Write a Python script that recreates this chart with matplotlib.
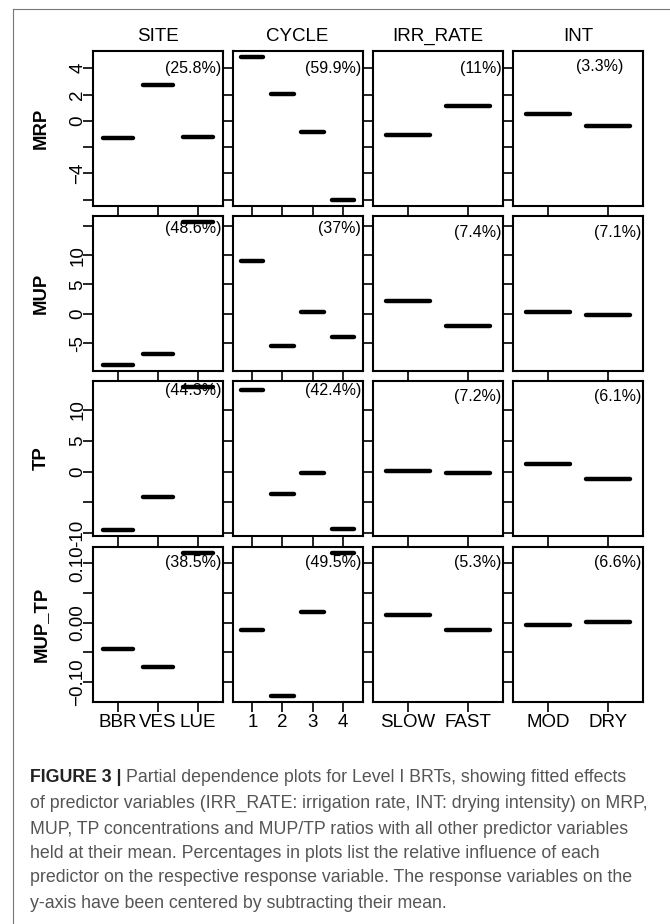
import matplotlib
matplotlib.use("Agg")
import matplotlib.pyplot as plt
from matplotlib.lines import Line2D

plt.rcParams['font.family'] = ['Liberation Sans', 'DejaVu Sans']

# predictors (columns) and their factor levels
predictors = ["SITE", "CYCLE", "IRR_RATE", "INT"]
site_levels = ["BBR", "VES", "LUE"]
cycle_levels = ["1", "2", "3", "4"]
irr_levels = ["SLOW", "FAST"]
int_levels = ["MOD", "DRY"]
levels = [site_levels, cycle_levels, irr_levels, int_levels]

# responses (rows), centred partial dependence per level
responses = ["MRP", "MUP", "TP", "MUP_TP"]
mrp = [[-1.34, 2.70, -1.22], [4.88, 2.06, -0.84, -6.05], [-1.09, 1.15], [0.49, -0.43]]
mup = [[-8.74, -6.87, 15.67], [9.03, -5.5, 0.34, -3.92], [2.11, -2.1], [0.24, -0.22]]
tp = [[-9.5, -4.08, 13.75], [13.3, -3.55, -0.26, -9.35], [0.16, -0.21], [1.29, -1.23]]
mup_tp = [[-0.0435, -0.0755, 0.118], [-0.0125, -0.124, 0.018, 0.118], [0.0123, -0.013], [-0.003, 0.001]]
values = [mrp, mup, tp, mup_tp]

# relative influence (%)
influence = [["25.8", "59.9", "11", "3.3"],
             ["48.6", "37", "7.4", "7.1"],
             ["44.3", "42.4", "7.2", "6.1"],
             ["38.5", "49.5", "5.3", "6.6"]]

# y ticks and which get a label
yticks = [[-6, -4, -2, 0, 2, 4], [-5, 0, 5, 10, 15], [-10, -5, 0, 5, 10], [-0.10, -0.05, 0.0, 0.05, 0.10]]
ytick_labels = [["", "\u22124", "", "0", "2", "4"],
                ["-5", "0", "5", "10", ""],
                ["-10", "", "0", "5", "10"],
                ["\u22120.10", "", "0.00", "", "0.10"]]

W, H = 670, 924
fig = plt.figure(figsize=(W / 100, H / 100), dpi=100)

col_left = [93, 232.5, 373, 513]
row_top = [51, 216, 381, 547]
pw, ph = 130, 155
# vertical offset (px from panel top) of the influence labels
lab_off = [[17, 17, 17, 16], [12, 12, 16, 16], [9, 9, 16, 16], [15, 15, 15, 15]]
fs = 13.5

for r in range(4):
    row_vals = [v for col in values[r] for v in col]
    lo, hi = min(row_vals), max(row_vals)
    ext = 0.04 * (hi - lo)
    for c in range(4):
        ax = fig.add_axes([col_left[c] / W, 1 - (row_top[r] + ph) / H, pw / W, ph / H])
        n = len(levels[c])
        xs = range(1, n + 1)
        for x, y in zip(xs, values[r][c]):
            ax.plot([x - 0.37, x + 0.37], [y, y], color="black", lw=3.2, solid_capstyle="round")
        ax.set_xlim(0.5 - 0.04 * n, n + 0.5 + 0.04 * n)
        ax.set_ylim(lo - ext, hi + ext)
        ax.set_xticks(list(xs))
        ax.set_yticks(yticks[r])
        if r == 3:
            ax.set_xticklabels(levels[c], fontsize=fs)
        else:
            ax.set_xticklabels([])
        if c == 0:
            ax.set_yticklabels(ytick_labels[r], fontsize=fs, rotation=90, va="center")
        else:
            ax.set_yticklabels([])
        ax.tick_params(direction="out", length=7.2, width=1.2, color="black")
        ax.tick_params(axis="y", pad=-2.5)
        ax.tick_params(axis="x", pad=1.5)
        for s in ax.spines.values():
            s.set_linewidth(1.5)
        txt = "(" + influence[r][c] + "%)"
        ty = 1 - lab_off[r][c] / ph
        if r == 0 and c == 3:
            ax.text(0.67, ty, txt, transform=ax.transAxes, ha="center", va="center", fontsize=11.5)
        else:
            ax.text(0.99, ty, txt, transform=ax.transAxes, ha="right", va="center", fontsize=11.5)
        if r == 0:
            fig.text((col_left[c] + pw / 2) / W, 1 - 41 / H, predictors[c], fontsize=fs,
                     ha="center", va="baseline")
    fig.text(41.5 / W, 1 - (row_top[r] + ph / 2) / H, responses[r], rotation=90,
             ha="center", va="center", fontsize=13.3, fontweight="bold")

# page frame lines
fig.add_artist(Line2D([13 / W, 1], [1 - 8.5 / H, 1 - 8.5 / H], transform=fig.transFigure, color="#777777", lw=0.8))
fig.add_artist(Line2D([13 / W, 13 / W], [0, 1 - 8.5 / H], transform=fig.transFigure, color="#777777", lw=0.8))

# caption
caption = ["Partial dependence plots for Level I BRTs, showing fitted effects",
           "of predictor variables (IRR_RATE: irrigation rate, INT: drying intensity) on MRP,",
           "MUP, TP concentrations and MUP/TP ratios with all other predictor variables",
           "held at their mean. Percentages in plots list the relative influence of each",
           "predictor on the respective response variable. The response variables on the",
           "y-axis have been centered by subtracting their mean."]
cap_y = [777, 803, 829, 853, 878, 904]
renderer = fig.canvas.get_renderer()
# size the caption so the longest line spans the text block width
probe = fig.text(0, 0, caption[1], fontsize=10)
cap_fs = 10 * 620 / probe.get_window_extent(renderer).width
probe.remove()

head = fig.text(30 / W, 1 - cap_y[0] / H, "FIGURE 3 | ", fontsize=cap_fs, fontweight="bold",
                color="#222222", va="center", ha="left")
hb = head.get_window_extent(renderer)
fig.text(hb.x1 / W, 1 - cap_y[0] / H, caption[0], fontsize=cap_fs, color="#555555", va="center", ha="left")
for line, y in zip(caption[1:], cap_y[1:]):
    fig.text(30 / W, 1 - y / H, line, fontsize=cap_fs, color="#555555", va="center", ha="left")

fig.savefig("out.png", dpi=100)
